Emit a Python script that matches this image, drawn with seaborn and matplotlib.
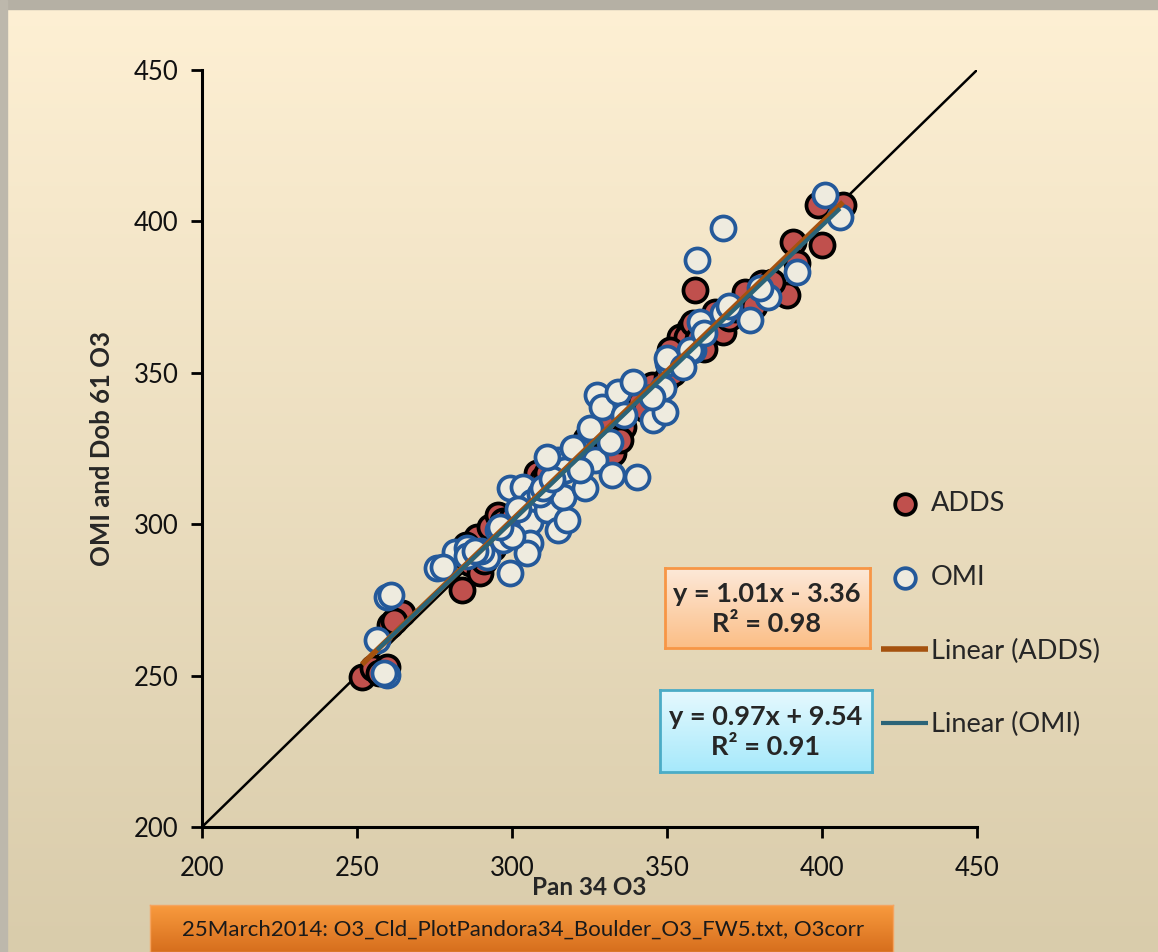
import numpy as np
import pandas as pd
import matplotlib
matplotlib.use("Agg")
import matplotlib.pyplot as plt
import matplotlib.colors as mcolors
from matplotlib.patches import Rectangle
import seaborn as sns

# Pandora 34 vs ADDS (Dobson 61) ozone
adds_x = [251.6, 255.2, 259.7, 257.0, 260.6, 264.5, 262.0, 283.9, 286.5, 289.7,
          288.7, 292.9, 295.5, 299.4, 297.0, 294.0, 291.0, 285.0, 287.0, 296.0,
          300.0, 302.0, 308.0, 305.0, 310.0, 311.3, 313.0, 316.0, 320.0, 322.0,
          324.0, 328.0, 332.6, 334.8, 335.8, 334.8, 330.0, 338.0, 341.3, 343.0,
          345.0, 350.0, 352.0, 354.2, 357.4, 356.5, 351.0, 358.4, 360.0, 362.0,
          364.8, 365.5, 368.0, 370.0, 372.0, 375.2, 380.6, 388.7, 378.0, 359.0,
          390.6, 392.0, 398.7, 406.8, 400.0, 384.0]
adds_y = [249.5, 252.5, 252.8, 251.0, 266.7, 270.7, 268.0, 278.3, 287.2, 283.9,
          295.8, 299.1, 303.0, 298.1, 301.0, 292.0, 288.0, 293.0, 290.0, 296.0,
          302.0, 300.0, 317.0, 310.0, 315.0, 317.0, 312.0, 320.0, 325.0, 322.0,
          328.0, 330.0, 323.5, 333.4, 332.1, 327.8, 334.0, 340.0, 340.4, 338.0,
          346.0, 348.3, 350.0, 361.9, 364.8, 361.8, 357.5, 366.5, 361.0, 358.0,
          366.5, 370.0, 363.5, 368.0, 371.0, 376.7, 379.7, 375.7, 372.0, 377.4,
          393.2, 386.3, 405.4, 405.4, 392.2, 380.0]

omi_x = [256.5, 259.7, 258.8, 259.7, 261.0, 275.8, 281.6, 285.5, 285.5, 277.7,
         292.0, 290.0, 295.5, 297.1, 299.4, 299.4, 303.5, 306.5, 305.8, 305.8,
         304.8, 311.3, 314.8, 317.7, 316.5, 323.5, 316.5, 314.8, 317.1, 321.0,
         319.7, 326.8, 325.2, 331.6, 332.3, 340.3, 327.4, 329.0, 334.2, 339.0,
         345.5, 349.4, 348.7, 350.3, 358.4, 360.6, 350.0, 357.4, 368.0, 376.8,
         382.6, 392.0, 359.7, 368.0, 401.0, 405.8, 300.0, 302.0, 309.0, 322.0,
         336.0, 345.0, 355.0, 362.0, 370.0, 296.0, 288.0, 310.0, 380.0, 313.0,
         311.3]
omi_y = [261.8, 250.2, 251.0, 276.0, 276.5, 285.6, 290.8, 292.2, 289.5, 285.9,
         289.2, 291.0, 298.1, 294.8, 283.9, 312.0, 312.3, 307.3, 300.7, 293.8,
         290.5, 304.7, 298.1, 301.4, 309.0, 312.0, 320.6, 321.2, 317.9, 325.2,
         325.2, 321.2, 331.8, 327.2, 316.3, 315.6, 342.7, 338.7, 343.7, 347.0,
         334.4, 337.0, 345.0, 353.3, 357.6, 366.8, 355.0, 357.5, 369.8, 367.5,
         375.0, 383.3, 387.3, 397.8, 408.7, 401.5, 296.0, 305.0, 310.0, 318.0,
         336.0, 342.0, 352.0, 363.0, 372.0, 299.0, 291.0, 312.0, 378.0, 315.0,
         322.2]

one_to_one = [200, 450]
axis_ticks = [200, 250, 300, 350, 400, 450]
adds_eq = "y = 1.01x - 3.36\nR² = 0.98"
omi_eq = "y = 0.97x + 9.54\nR² = 0.91"
footer = "25March2014: O3_Cld_PlotPandora34_Boulder_O3_FW5.txt, O3corr"

adds = pd.DataFrame({"pan": adds_x, "obs": adds_y})
omi = pd.DataFrame({"pan": omi_x, "obs": omi_y})

sns.set_style("white")
plt.rcParams["font.family"] = ["Lato", "DejaVu Sans"]

W, H = 1158, 952
fig = plt.figure(figsize=(W / 100, H / 100), dpi=100)


def gradient_rect(rect, top, bottom, edge=None, lw=1.5, z=0):
    """Axes filled with a vertical colour gradient, used as a box."""
    a = fig.add_axes(rect, zorder=z)
    c1 = np.array(mcolors.to_rgb(top))
    c2 = np.array(mcolors.to_rgb(bottom))
    t = np.linspace(0, 1, 256)[:, None, None]
    img = c1 * (1 - t) + c2 * t
    a.imshow(np.repeat(img, 2, axis=1), aspect="auto", extent=[0, 1, 0, 1])
    a.set_xticks([])
    a.set_yticks([])
    for s in a.spines.values():
        s.set_visible(edge is not None)
        if edge is not None:
            s.set_color(edge)
            s.set_linewidth(lw)
    return a


# page background with the shadowed frame
gradient_rect([0, 0, 1, 1], "#FEF0D4", "#D9CCAB", z=-10)
fig.patches.append(Rectangle((0, 1 - 9 / H), 1, 9 / H, transform=fig.transFigure,
                             color="#B5B0A4", zorder=-5))
fig.patches.append(Rectangle((0, 0), 7 / W, 1, transform=fig.transFigure,
                             color="#BDB8AC", zorder=-5))

ax = fig.add_axes([202 / W, 1 - 827 / H, 775 / W, 757 / H], zorder=5)
ax.set_facecolor("none")

ax.plot(one_to_one, one_to_one, color="black", lw=1.8, zorder=1)

sns.scatterplot(data=adds, x="pan", y="obs", ax=ax, s=300, color="#C0504D",
                edgecolor="black", linewidth=2.7, label="ADDS", zorder=2)
sns.scatterplot(data=omi, x="pan", y="obs", ax=ax, s=300, color="#EEEBDF",
                edgecolor="#24599A", linewidth=2.7, label="OMI", zorder=3)
sns.regplot(data=adds, x="pan", y="obs", ax=ax, scatter=False, ci=None,
            line_kws={"color": "#A5520F"})
sns.regplot(data=omi, x="pan", y="obs", ax=ax, scatter=False, ci=None,
            line_kws={"color": "#2B6478"})

fit_adds, fit_omi = ax.lines[1], ax.lines[2]
fit_adds.set(label="Linear (ADDS)", linewidth=4.0, zorder=10, solid_capstyle="butt")
fit_omi.set(label="Linear (OMI)", linewidth=3.0, zorder=11, solid_capstyle="butt")

ax.set_xlim(200, 450)
ax.set_ylim(200, 450)
ax.set_xticks(axis_ticks)
ax.set_yticks(axis_ticks)
for side in ["top", "right"]:
    ax.spines[side].set_visible(False)
for side in ["left", "bottom"]:
    ax.spines[side].set_color("black")
    ax.spines[side].set_linewidth(2.2)
ax.tick_params(axis="both", direction="out", length=8, width=2, color="black",
               labelsize=18.5, labelcolor="#111111", left=True, bottom=True)
ax.tick_params(axis="x", pad=13)
ax.tick_params(axis="y", pad=9)
ax.set_xlabel("Pan 34 O3", fontsize=17.5, fontweight="bold", labelpad=-4)
ax.set_ylabel("OMI and Dob 61 O3", fontsize=18.5, fontweight="bold", labelpad=14)

handles = [ax.collections[0], ax.collections[1], fit_adds, fit_omi]
leg = ax.legend(handles=handles, labels=[h.get_label() for h in handles],
                loc="upper left", bbox_to_anchor=(862 / W, 1 - 472 / H),
                bbox_transform=fig.transFigure, frameon=False, fontsize=19.5,
                labelspacing=1.8, handlelength=1.75, handletextpad=0.1,
                borderpad=0.2)
for h in leg.legend_handles[:2]:
    h.set_sizes([220])

# regression equation boxes
gradient_rect([665 / W, 1 - 648 / H, 205 / W, 80 / H], "#FDE9D9", "#FBBE86",
              edge="#F79646", lw=2, z=6)
fig.text(767 / W, 1 - 609 / H, adds_eq, ha="center", va="center", fontsize=19.5,
         fontweight="bold", linespacing=1.3, zorder=7)
gradient_rect([660 / W, 1 - 772 / H, 212 / W, 82 / H], "#E6F9FE", "#A6E9FB",
              edge="#4BACC6", lw=2, z=6)
fig.text(766 / W, 1 - 732 / H, omi_eq, ha="center", va="center", fontsize=19.5,
         fontweight="bold", linespacing=1.3, zorder=7)

# file banner
gradient_rect([150 / W, 0, 743 / W, 47 / H], "#F99B3E", "#D66E1D", edge="#F4A460", lw=1, z=6)
fig.text(523 / W, 1 - 930 / H, footer, ha="center", va="center", fontsize=16,
         color="#1A1A1A", zorder=7)

fig.savefig("out.png", dpi=100)
